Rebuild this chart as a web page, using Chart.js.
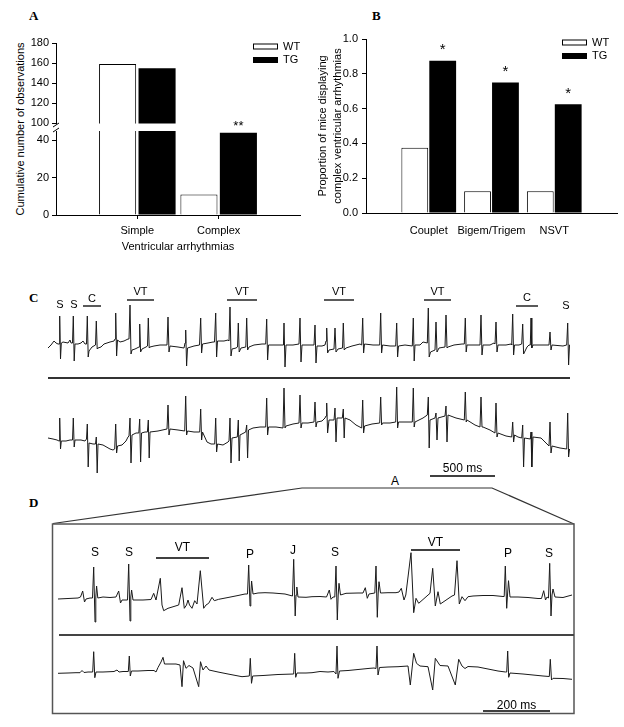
<!DOCTYPE html>
<html>
<head>
<meta charset="utf-8">
<script src="https://cdn.jsdelivr.net/npm/chart.js@4.4.0/dist/chart.umd.min.js"></script>
<style>
	body { margin: 0; background: #fff; font-family: "Liberation Sans", Arial, sans-serif; }
	#page { position: relative; width: 624px; height: 727px; overflow: hidden; background: #fff; }
	canvas { position: absolute; }
	.tag { position: absolute; font: bold 13px "Liberation Serif", "Times New Roman", serif; }
	.txt { position: absolute; font-size: 11px; white-space: nowrap; }
	.rule { position: absolute; background: #333; }
</style>
</head>
<body>
<div id="page">
	<div class="tag" style="left:29px;top:8px">A</div>
	<div class="tag" style="left:372px;top:8px">B</div>
	<div class="tag" style="left:29px;top:290px">C</div>
	<div class="tag" style="left:29px;top:495px">D</div>
	<div class="txt" style="left:20px;top:129px;transform:translate(-50%,-50%) rotate(-90deg)">Cumulative number of observations</div>
	<div class="txt" style="left:395px;top:481px;font-size:12px;transform:translate(-50%,-50%)">A</div>

	<canvas id="chartA1" width="310" height="103" style="left:0;top:30px"></canvas>
	<canvas id="chartA2" width="310" height="146" style="left:0;top:110px"></canvas>
	<canvas id="chartB" width="314" height="225" style="left:310px;top:25px"></canvas>

	<canvas id="ecgC1" width="522" height="92" style="left:48px;top:280px"></canvas>
	<div class="rule" style="left:48px;top:377px;width:522px;height:1.5px"></div>
	<canvas id="ecgC2" width="522" height="105" style="left:48px;top:380px"></canvas>

	<svg style="position:absolute;left:0;top:0" width="624" height="727">
		<polyline points="53,523.5 302,488 492,488 574,524" fill="none" stroke="#333" stroke-width="1.2"/>
		<rect x="52.5" y="524" width="521.5" height="189.5" fill="none" stroke="#555" stroke-width="1.5"/>
	</svg>
	<canvas id="ecgD1" width="514" height="90" style="left:58px;top:535px"></canvas>
	<div class="rule" style="left:59px;top:633.5px;width:515px;height:2px;background:#444"></div>
	<canvas id="ecgD2" width="514" height="75" style="left:58px;top:640px"></canvas>
</div>

<script>
// panel A: cumulative number of observations
var arrhythmiaTypes = ['Simple', 'Complex'];
var observationsWT = [159, 11];
var observationsTG = [155, 44];
var observationMarks = ['', '**'];

// panel B: proportion of mice with complex arrhythmias
var complexTypes = ['Couplet', 'Bigem/Trigem', 'NSVT'];
var proportionWT = [0.375, 0.125, 0.125];
var proportionTG = [0.875, 0.75, 0.625];
var proportionMarks = ['*', '*', '*'];

// panel C: ECG, samples at 130 Hz, amplitude in arbitrary units
var cRate = 130;
var ecgC1 = [[0,-3],[3,0],[6,4],[8,2],[10,1],[11,1],[11.7,29],[12.5,-14],[13.3,2],[15,3],[20,2],[22,5],[23,2],[24.5,2],[25.3,29],[26.2,-16],[27,1],[30,1],[33,2],[35,4],[37,1],[38.5,1],[39.3,29],[40.2,-12],[41,-6],[44,-2],[47.5,0],[48.3,24],[49.2,-4],[50,-3],[53,-2],[56,1],[62,3],[66,4],[67,6],[67.7,32],[68.6,-11],[69.5,5],[72,3],[76,4],[80,6],[81,6],[82,40],[83,-9],[84,-5],[87,-4],[91,-2],[91.7,21],[92.6,-7],[94,-4],[98,-2],[99.5,-1],[100.3,27],[101.2,-3],[102,-2],[106,-1],[112,0],[119,0],[120,28],[121,-7],[122,-1],[130,-2],[136,-3],[137,2],[137.7,15],[138.6,-21],[139.5,-3],[146,-1],[151.5,0],[152.7,27],[153.6,-8],[154.5,1],[160,2],[165,3],[166.5,3],[167.7,32],[168.6,-12],[169.5,4],[176,4],[180,5],[181,4],[182,38],[183,-11],[184,-4],[188,-3],[189.5,-2],[190.3,22],[191.2,-7],[193,-3],[197.8,-2],[198.7,27],[199.6,-5],[201,-2],[206,0],[214,1],[217.7,1],[218.7,26],[219.6,-15],[220.5,0],[228,0],[235,0],[235.5,3],[236,22],[237,-22],[238,0],[245,0],[251,1],[252,27],[253,-17],[254,0],[260,0],[266,0],[267,20],[268,-18],[269,-1],[274,-1],[277,0],[278,4],[278.7,17],[279.6,-8],[281,-5],[286,-4],[287,17],[288,-7],[290,-4],[294.5,-3],[295.3,22],[296.2,-5],[298,-3],[304,-1],[312,1],[313.7,0],[314.7,27],[315.6,-8],[316.5,1],[325,0],[331.7,0],[332.7,32],[333.6,-8],[334.5,0],[342,-1],[347.7,-1],[348.7,22],[349.6,-12],[350.5,-1],[357,0],[364.3,-1],[365.3,27],[366.2,-16],[367,0],[372,0],[375,3],[379.3,2],[380.3,37],[381.2,-12],[382.5,-7],[387,-5],[388,23],[389,-7],[391,-3],[397,-2],[398,30],[399,-3],[400,-2],[406,0],[414,1],[416.3,1],[417.3,27],[418.2,-7],[419,0],[427,0],[432,0],[433,30],[434,-10],[435,0],[442,0],[446,2],[447,1],[448,23],[449,-7],[450,0],[458,0],[463,1],[463.7,0],[464.7,31],[465.6,-10],[466.5,0],[471,0],[473.7,1],[474.7,21],[475.6,-9],[479,-2],[481,0],[482.3,0],[483,27],[483.8,-3],[485,0],[493,0],[501,0],[502,13],[503,-5],[504,0],[515,-1],[518.7,0],[519.7,22],[520.6,-20],[521.5,0],[522,0]];
var ecgC2 = [[0,2],[5,1],[9,0],[11,-1],[11.7,22],[12.5,-9],[13.3,-1],[18,-1],[22,0],[24.5,0],[25.3,22],[26.2,-7],[27,0],[33,0],[37,-1],[38.5,1],[39.3,16],[40.2,-27],[41,-3],[45,-4],[47.5,-4],[48.3,3],[49.2,-33],[50,-4],[55,-5],[62,-9],[65,-10],[66.7,-9],[67.7,16],[68.6,-13],[69.5,-6],[74,-5],[78,-1],[80,3],[81,4],[82,22],[83,-23],[84,5],[88,7],[90.8,7],[91.7,21],[92.6,-22],[93.5,7],[97,8],[99.4,8],[100.3,20],[101.2,-18],[102,8],[110,9],[119,11],[120,35],[121,5],[122,11],[130,10],[136.7,9],[137.7,44],[138.6,5],[139.5,9],[146,8],[151.7,8],[152.7,31],[153.6,0],[154.5,8],[159,-2],[163,-4],[166.7,-4],[167.7,22],[168.6,-12],[169.5,-4],[175,-5],[180,-2],[181,-1],[182,22],[183,-23],[184,2],[189.3,3],[190.3,20],[191.2,-21],[192,5],[197.7,8],[198.7,15],[199.6,-18],[200.5,10],[205,12],[212,13],[217.7,13],[218.7,42],[219.6,5],[220.5,13],[228,13],[235,12],[236,52],[237,12],[238,14],[245,16],[251,17],[252,45],[253,12],[254,17],[260,17],[266,18],[267,38],[268,13],[269,18],[274,19],[277,22],[278,24],[278.7,37],[279.6,7],[281,20],[286,20],[287,32],[288,-2],[289,22],[294.3,22],[295.3,31],[296.2,2],[297,22],[302,20],[308,15],[313.7,12],[314.7,40],[315.6,7],[316.5,14],[324,16],[331.7,17],[332.7,43],[333.6,15],[334.5,17],[342,17],[347.7,18],[348.7,53],[349.6,12],[350.5,18],[357,18],[364.3,18],[365.3,52],[366.2,13],[367,18],[375,22],[379.3,25],[380.3,43],[381.2,-8],[382,20],[387,22],[388,27],[389,0],[390,22],[397,24],[398,34],[399,-2],[400,25],[408,22],[416.3,20],[417.3,48],[418.2,18],[419,20],[427,15],[432,13],[433,43],[434,13],[435,13],[442,10],[447,7],[448,37],[449,3],[450,7],[458,4],[463.7,3],[464.7,18],[465.6,-2],[466.5,5],[470,3],[473.7,2],[474.7,15],[475.6,-27],[476.5,2],[482.3,1],[483,8],[483.8,-27],[485,3],[493,2],[501,-6],[502,18],[503,-13],[504,-6],[512,-8],[518.7,-9],[519.7,27],[520.6,-17],[521.5,-9],[522,-10]];
var cMarkNames = ['S', 'S', 'C', 'VT', 'VT', 'VT', 'VT', 'C', 'S'];
var cMarkFrom = [12, 26, 35, 79, 179, 276, 376, 468, 518];
var cMarkTo = [12, 26, 53, 106, 209, 306, 403, 490, 518];

// panel D: expanded segment, samples at 335 Hz
var dRate = 335;
var ecgD1 = [[0,-2],[10,-1.5],[20,-1],[22.5,0],[24.7,6],[26.5,-5],[28,-2],[32,-1],[34.5,-1],[35.7,30],[37,-25],[37.8,0],[38.6,11],[39.8,-1],[45,0],[52,-0.5],[58,0],[60.7,6],[62.5,-6],[64,-3],[69.5,-3],[70.7,33],[72,-24],[72.8,0],[73.6,7],[75,-3],[85,-3],[93,-2.5],[95.7,3.7],[98,-3],[102.3,18.7],[104,-8],[105.7,-13.7],[110,-11.3],[120.7,-8],[124,9.3],[126.3,-11.3],[128.5,-8],[130,-3],[131.5,-8],[134,-11.3],[136.7,-3.7],[139,-7],[142.3,26.3],[145.7,-11.3],[148,-8],[150.7,-6.3],[152.5,-3],[154,-0.3],[156.3,-3.7],[160.7,-2.3],[170,-0.5],[180,1.5],[187,3],[189.5,3],[190.7,32],[192,-9],[192.8,3],[193.6,16],[195,3],[200,4],[207,4.3],[215,4],[227,3],[234.5,1],[235.7,37.7],[237.2,-19],[238,2],[238.8,10],[240,0],[248,-0.3],[254,0.3],[262,0.5],[268.5,0],[271.3,7],[273,-2.3],[275,0],[276.8,0],[278,31],[279.3,-23],[280.2,2],[281,13.7],[282.5,2],[288,3.7],[300,4],[305,4],[307.3,9.3],[309.3,-1.3],[311,3],[316.8,4],[318,31],[319.3,-20.3],[320.2,4],[321,15.3],[322.5,4],[330,4.3],[338,4.3],[341,5],[343.3,8.7],[346,-3],[347.8,2],[353,44.3],[355.7,-15.7],[358,-1.3],[360.7,-6.3],[372,3.7],[374.7,28.7],[377.3,-9],[380,5.3],[382.3,-7],[394,1],[396.5,2],[399,36.3],[401.3,-7],[404,0.3],[407,-3.7],[410,0.3],[415,1],[425,1.5],[435,1.5],[445,0.5],[446.2,0.5],[447.3,31],[448.7,-11.3],[449.5,2],[450.5,16.3],[452,0],[460,0],[470,-0.5],[480,-1.5],[483.5,-1.5],[485.7,6.3],[487.5,-3],[489,0],[490.5,-1],[491.7,33.7],[493,-19],[494,2],[495,8],[497,0],[505,-0.5],[514,2]];
var ecgD2 = [[0,-1.3],[10,-1],[18,-0.7],[22,-0.7],[24,1.5],[26,-0.5],[30,0],[34.7,0],[35.7,20.3],[36.8,-5.7],[38,0],[45,0],[52,0.3],[56,0.5],[59,2],[61,0],[65,0.5],[70.3,0.5],[71.3,16],[72.3,-4],[73.5,1],[80,1],[90,1.5],[96,1.5],[98,0],[100,4.5],[103,10],[105,14.7],[106.5,8],[110,8],[118,8],[122,7],[124,-14.7],[125.5,11.3],[128,3.7],[131,6.5],[135,4],[140.7,-14.7],[142.5,10.3],[145,2],[148,6],[151,2],[160,0],[170,-2],[184,-4.7],[191.3,-4],[192.3,13.7],[193.5,-11.3],[194.7,-4],[205,-3.5],[220,-2.5],[235.7,-2],[236.7,18.7],[237.7,-5.3],[239,-1],[248,-1],[254,-0.7],[262,0.5],[270,0],[276,0.5],[278,-2],[279,26],[280,-6.3],[281.5,1],[290,1.5],[300,2.5],[312,3.7],[316,4],[318,3.5],[319,26],[320,-3],[321.5,4.5],[330,5],[340,5.3],[350,6],[352.3,-13],[355.7,18.7],[358.5,8.7],[362,6],[370,5.3],[374.7,-18],[377.3,13.7],[382,6.5],[390,6],[397.3,-13],[400.7,12.7],[404,6],[407,3.5],[410,5.5],[420,5],[430,3],[440,1],[447.5,0],[448.7,0],[449.7,21],[450.7,-5.3],[452,-1],[465,-2],[475,-3],[485,-4],[491.3,-4.5],[492.3,12.7],[493.5,-8],[495,-6.3],[505,-6.5],[514,-7.3]];
var dMarkNames = ['S', 'S', 'VT', 'P', 'J', 'S', 'VT', 'P', 'S'];
var dMarkFrom = [37, 71, 98, 192, 235, 277, 353, 450, 491];
var dMarkTo = [37, 71, 151, 192, 235, 277, 402, 450, 491];

Chart.defaults.font.family = '"Liberation Sans", Arial, sans-serif';
Chart.defaults.color = '#000';

// little helpers drawn on top of the charts
var boxLegend = {
	id: 'boxLegend',
	afterDraw: function(chart, args, o) {
		if (!o.show) return;
		var ctx = chart.ctx, a = chart.chartArea;
		ctx.save();
		chart.data.datasets.forEach(function(ds, i) {
			var x = a.right - o.right, y = a.top + o.top + i * o.step;
			ctx.fillStyle = ds.backgroundColor;
			ctx.fillRect(x, y - o.boxH / 2, o.boxW, o.boxH);
			ctx.strokeStyle = '#000';
			ctx.lineWidth = 1;
			ctx.strokeRect(x + 0.5, y - o.boxH / 2 + 0.5, o.boxW - 1, o.boxH - 1);
			ctx.fillStyle = '#000';
			ctx.font = '11px "Liberation Sans", Arial';
			ctx.textBaseline = 'middle';
			ctx.fillText(ds.label, x + o.boxW + 5, y);
		});
		ctx.restore();
	}
};

var barMarks = {
	id: 'barMarks',
	afterDatasetsDraw: function(chart, args, o) {
		if (!o.marks) return;
		var ctx = chart.ctx;
		ctx.save();
		ctx.font = o.size + 'px "Liberation Sans", Arial';
		ctx.textAlign = 'center';
		ctx.textBaseline = 'alphabetic';
		ctx.fillStyle = '#000';
		chart.getDatasetMeta(o.dataset).data.forEach(function(bar, i) {
			var mark = o.marks[i - 1];
			if (mark) ctx.fillText(mark, bar.x, bar.y - o.lift);
		});
		ctx.restore();
	}
};

var axisBreak = {
	id: 'axisBreak',
	afterDraw: function(chart, args, o) {
		if (!o.show) return;
		var ctx = chart.ctx, a = chart.chartArea;
		ctx.save();
		ctx.strokeStyle = '#000';
		ctx.lineWidth = 1;
		[a.top - 6, a.top - 1].forEach(function(y) {
			ctx.beginPath();
			ctx.moveTo(a.left - 3, y + 2);
			ctx.lineTo(a.left + 3, y - 2);
			ctx.stroke();
		});
		ctx.restore();
	}
};

var ecgMarks = {
	id: 'ecgMarks',
	afterDraw: function(chart, args, o) {
		if (!o.names) return;
		var ctx = chart.ctx, sx = chart.scales.x, top = chart.chartArea.top;
		ctx.save();
		ctx.font = o.size + 'px "Liberation Sans", Arial';
		ctx.textAlign = 'center';
		ctx.textBaseline = 'middle';
		ctx.fillStyle = '#000';
		ctx.strokeStyle = '#000';
		ctx.lineWidth = 1.3;
		o.names.forEach(function(name, i) {
			var x0 = sx.getPixelForValue(o.from[i]), x1 = sx.getPixelForValue(o.to[i]);
			ctx.fillText(name, (x0 + x1) / 2, top + o.textY[i]);
			if (x1 > x0) {
				ctx.beginPath();
				ctx.moveTo(x0, top + o.barY[i]);
				ctx.lineTo(x1, top + o.barY[i]);
				ctx.stroke();
			}
		});
		ctx.restore();
	}
};

var scaleBar = {
	id: 'scaleBar',
	afterDraw: function(chart, args, o) {
		if (!o.label) return;
		var ctx = chart.ctx, sx = chart.scales.x, bottom = chart.chartArea.bottom;
		var x0 = sx.getPixelForValue(o.from), x1 = sx.getPixelForValue(o.from + o.length);
		ctx.save();
		ctx.strokeStyle = '#000';
		ctx.lineWidth = 1.3;
		ctx.beginPath();
		ctx.moveTo(x0, bottom + o.lineY);
		ctx.lineTo(x1, bottom + o.lineY);
		ctx.stroke();
		ctx.fillStyle = '#000';
		ctx.font = '12px "Liberation Sans", Arial';
		ctx.textAlign = 'center';
		ctx.textBaseline = 'middle';
		ctx.fillText(o.label, (x0 + x1) / 2, bottom + o.textY);
		ctx.restore();
	}
};

function pointsOf(pairs) {
	return pairs.map(function(p) { return {x: p[0], y: p[1]}; });
}

// an empty slot on each side of the categories, as in the figure
function slotsOf(names) {
	return [''].concat(names, ['']);
}
function padded(list) {
	return [null].concat(list, [null]);
}

function yAxis(min, max, step, pad) {
	return {
		min: min, max: max,
		afterFit: function(s) { s.width = 56; },
		border: {display: true, color: '#000', width: 1},
		grid: {drawOnChartArea: false, drawTicks: true, tickLength: 4, color: '#000'},
		ticks: {stepSize: step, includeBounds: false, padding: pad, font: {size: 11}, color: '#000'}
	};
}

function xAxis(names, shown, tickColor, extra) {
	var slots = slotsOf(names);
	var axis = {
		type: 'category',
		display: shown,
		offset: false,
		border: {display: true, color: '#000', width: 1},
		grid: {
			drawOnChartArea: false, drawTicks: true, tickLength: 4, offset: false,
			color: function(c) { return slots[c.index] ? tickColor : 'rgba(0,0,0,0)'; }
		},
		ticks: {padding: 5, font: {size: 11}, color: '#000', maxRotation: 0, autoSkip: false}
	};
	return Object.assign(axis, extra || {});
}

function barSets(wt, tg, cat, bar) {
	return [
		{label: 'WT', data: padded(wt), backgroundColor: '#fff', borderColor: '#000', borderWidth: 1,
			categoryPercentage: cat, barPercentage: bar},
		{label: 'TG', data: padded(tg), backgroundColor: '#000', borderColor: '#000', borderWidth: 0,
			categoryPercentage: cat, barPercentage: bar}
	];
}

// panel A, upper part of the broken axis
new Chart(document.getElementById('chartA1'), {
	type: 'bar',
	data: {labels: slotsOf(arrhythmiaTypes), datasets: barSets(observationsWT, observationsTG, 0.97, 0.94)},
	options: {
		responsive: false, animation: false, events: [],
		layout: {padding: {top: 13, bottom: 7, left: 0, right: 10}},
		plugins: {
			legend: {display: false}, tooltip: {enabled: false},
			boxLegend: {show: true, right: 47, top: 3.5, step: 13.5, boxW: 25, boxH: 6}
		},
		scales: {
			x: xAxis(arrhythmiaTypes, false, '#000'),
			y: yAxis(100, 180, 20, 3)
		}
	},
	plugins: [boxLegend]
});

// panel A, lower part of the broken axis
new Chart(document.getElementById('chartA2'), {
	type: 'bar',
	data: {labels: slotsOf(arrhythmiaTypes), datasets: barSets(observationsWT, observationsTG, 0.97, 0.94)},
	options: {
		responsive: false, animation: false, events: [],
		layout: {padding: {top: 21, bottom: 0, left: 0, right: 10}},
		plugins: {
			legend: {display: false}, tooltip: {enabled: false},
			barMarks: {dataset: 1, marks: observationMarks, size: 13, lift: 2.5},
			axisBreak: {show: true}
		},
		scales: {
			x: xAxis(arrhythmiaTypes, true, '#000', {
				afterFit: function(s) { s.height = 41; },
				title: {display: true, text: 'Ventricular arrhythmias', font: {size: 11}, color: '#000', padding: {top: 0, bottom: 2}}
			}),
			y: yAxis(0, 45, 20, 3)
		}
	},
	plugins: [barMarks, axisBreak]
});

// panel B
var axisB = yAxis(0, 1, 0.2, 4);
axisB.ticks.callback = function(v) { return v.toFixed(1); };
axisB.title = {display: true, text: ['Proportion of mice displaying', 'complex ventricular arrhythmias'],
	font: {size: 11, lineHeight: 1.36}, color: '#000', padding: {top: 5.5, bottom: 0}};
var axisBx = xAxis(complexTypes, true, 'rgba(0,0,0,0)', {
	afterFit: function(s) { s.height = 37; }
});
axisBx.ticks.padding = 7;
new Chart(document.getElementById('chartB'), {
	type: 'bar',
	data: {labels: slotsOf(complexTypes), datasets: barSets(proportionWT, proportionTG, 0.89, 0.96)},
	options: {
		responsive: false, animation: false, events: [],
		layout: {padding: {top: 14, bottom: 0, left: 0, right: 4}},
		plugins: {
			legend: {display: false}, tooltip: {enabled: false},
			boxLegend: {show: true, right: 55, top: 3.5, step: 13.5, boxW: 25, boxH: 6},
			barMarks: {dataset: 1, marks: proportionMarks, size: 15, lift: 6.5}
		},
		scales: {
			x: axisBx,
			y: axisB
		}
	},
	plugins: [boxLegend, barMarks]
});

// ECG traces
function ecgChart(id, pairs, xMax, yMin, yMax, padding, extra) {
	return new Chart(document.getElementById(id), {
		type: 'line',
		data: {datasets: [{data: pointsOf(pairs), borderColor: '#1a1a1a', borderWidth: 1, pointRadius: 0, tension: 0, fill: false}]},
		options: {
			responsive: false, animation: false, events: [],
			layout: {padding: padding},
			plugins: Object.assign({legend: {display: false}, tooltip: {enabled: false}}, extra || {}),
			scales: {
				x: {type: 'linear', display: false, min: 0, max: xMax},
				y: {display: false, min: yMin, max: yMax}
			}
		},
		plugins: [ecgMarks, scaleBar]
	});
}

ecgChart('ecgC1', ecgC1, 522, -27, 60, {top: 5, bottom: 0, left: 0, right: 0}, {
	ecgMarks: {names: cMarkNames, from: cMarkFrom, to: cMarkTo, size: 11,
		textY: [20, 20, 14, 7, 7, 7, 7, 13, 21], barY: [0, 0, 21, 15, 15, 15, 15, 21, 0]}
});
ecgChart('ecgC2', ecgC2, 522, -35, 60, {top: 0, bottom: 10, left: 0, right: 0}, {
	scaleBar: {from: 382, length: 0.5 * cRate, label: '500 ms', lineY: 1, textY: -6}
});
ecgChart('ecgD1', ecgD1, 514, -28, 47, {top: 15, bottom: 0, left: 0, right: 0}, {
	ecgMarks: {names: dMarkNames, from: dMarkFrom, to: dMarkTo, size: 12,
		textY: [3, 3, -2, 5, 1, 3, -7, 4, 4], barY: [0, 0, 8, 0, 0, 0, 0, 0, 0]}
});
ecgChart('ecgD2', ecgD2, 514, -28, 32, {top: 0, bottom: 15, left: 0, right: 0}, {
	scaleBar: {from: 425, length: 0.2 * dRate, label: '200 ms', lineY: 11, textY: 6}
});
</script>
</body>
</html>
